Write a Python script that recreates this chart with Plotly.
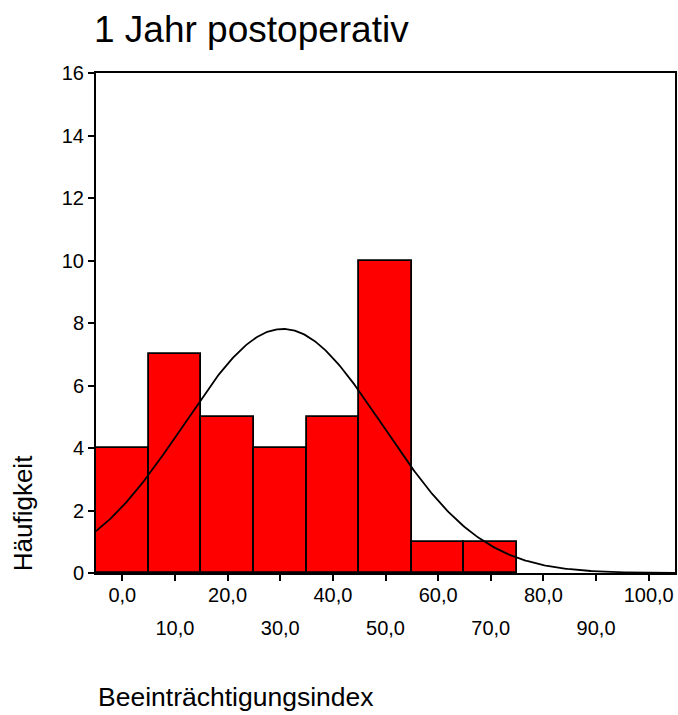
import numpy as np
import plotly.graph_objects as go

# data
bin_centers = [0, 10, 20, 30, 40, 50, 60, 70]
counts = [4, 7, 5, 4, 5, 10, 1, 1]
bin_width = 10
curve_mean = 30.5
curve_sd = 18.9
n_total = sum(counts)

even_ticks = [0, 20, 40, 60, 80, 100]
even_labels = ["0,0", "20,0", "40,0", "60,0", "80,0", "100,0"]
odd_ticks = [10, 30, 50, 70, 90]
odd_labels = ["10,0", "30,0", "50,0", "70,0", "90,0"]

FONT = "Liberation Sans, Arial, sans-serif"

xs = np.linspace(-5, 105, 400)
ys = n_total * bin_width / (curve_sd * np.sqrt(2 * np.pi)) * np.exp(-0.5 * ((xs - curve_mean) / curve_sd) ** 2)

fig = go.Figure()
fig.add_trace(go.Bar(
    x=bin_centers, y=counts, width=bin_width,
    marker=dict(color="#FF0000", line=dict(color="black", width=1.8)),
    showlegend=False, hoverinfo="skip",
))
fig.add_trace(go.Scatter(
    x=xs, y=ys, mode="lines", line=dict(color="black", width=1.8),
    showlegend=False, hoverinfo="skip",
))
# invisible trace on second x-axis to carry the second row of tick labels
fig.add_trace(go.Scatter(x=[None], y=[None], xaxis="x2", showlegend=False))

fig.update_layout(
    width=678, height=715,
    margin=dict(l=96, r=1, t=73, b=142),
    paper_bgcolor="white", plot_bgcolor="white",
    font=dict(family=FONT, color="black", size=20),
    bargap=0,
    title=dict(text="1 Jahr postoperativ", x=94 / 678, xanchor="left",
               y=1 - 29 / 715, yanchor="middle",
               font=dict(size=37, family=FONT, color="black")),
    xaxis=dict(range=[-5, 105], tickvals=even_ticks + odd_ticks,
               ticktext=even_labels + [""] * len(odd_ticks),
               ticks="outside", ticklen=6, tickwidth=1.5, tickcolor="black",
               ticklabelstandoff=-3,
               showline=True, linecolor="black", linewidth=2, mirror=True,
               showgrid=False, zeroline=False, fixedrange=True,
               tickfont=dict(size=20)),
    xaxis2=dict(range=[-5, 105], overlaying="x", side="bottom",
                tickvals=odd_ticks, ticktext=odd_labels, ticks="",
                ticklabelstandoff=41, showline=False, showgrid=False,
                zeroline=False, tickfont=dict(size=20)),
    yaxis=dict(range=[0, 16], tickvals=list(range(0, 17, 2)),
               ticks="outside", ticklen=6, tickwidth=1.5, tickcolor="black",
               showline=True, linecolor="black", linewidth=2, mirror=True,
               showgrid=False, zeroline=False, fixedrange=True,
               tickfont=dict(size=20)),
    annotations=[
        dict(text="Häufigkeit", xref="paper", yref="paper",
             x=(23 - 96) / 581, y=0, textangle=-90,
             showarrow=False, xanchor="center", yanchor="bottom",
             font=dict(size=26, family=FONT, color="black")),
        dict(text="Beeinträchtigungsindex", xref="paper", yref="paper",
             x=(96 - 96) / 581, y=(573 - 697) / 500,
             showarrow=False, xanchor="left", yanchor="middle",
             font=dict(size=26.5, family=FONT, color="black")),
    ],
)

fig.write_html("out.html", config={"displayModeBar": False},
               post_script="document.body.style.margin='0';")
